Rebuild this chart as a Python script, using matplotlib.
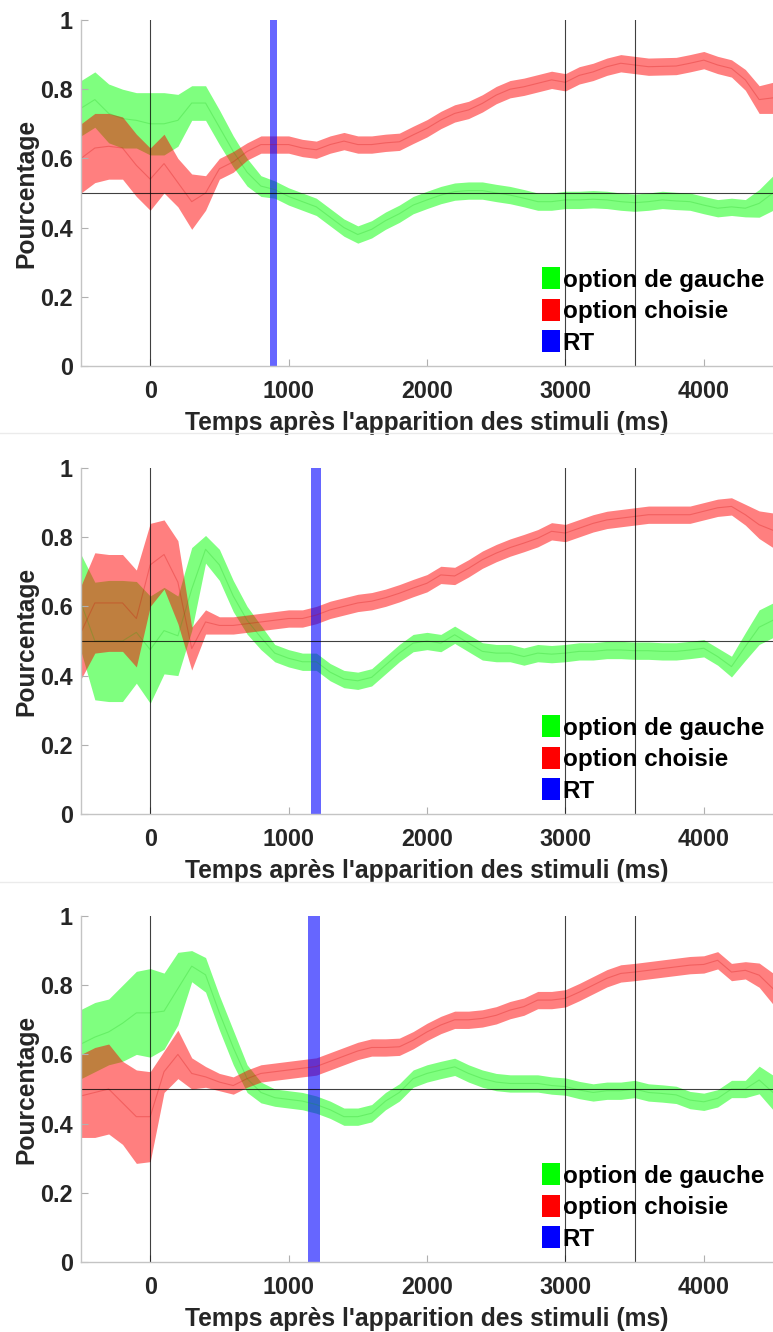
import matplotlib
matplotlib.use("Agg")
import matplotlib.pyplot as plt
from matplotlib.patches import Patch
import numpy as np

# temps (ms) après l'apparition des stimuli
t = np.arange(-500, 4501, 100)

# panneau 1
g1 = [0.745, 0.77, 0.73, 0.715, 0.71, 0.70, 0.70, 0.71, 0.76, 0.76, 0.69,
      0.62, 0.56, 0.52, 0.51, 0.49, 0.475, 0.46, 0.43, 0.40, 0.38,
      0.395, 0.42, 0.44, 0.465, 0.48, 0.494, 0.504, 0.507, 0.507, 0.50,
      0.494, 0.485, 0.475, 0.475, 0.48, 0.48, 0.482, 0.48, 0.475, 0.472,
      0.475, 0.48, 0.477, 0.475, 0.465, 0.456, 0.46, 0.456, 0.47, 0.50]
g1_err = [0.08, 0.08, 0.085, 0.085, 0.08, 0.09, 0.09, 0.075, 0.05, 0.05, 0.05,
          0.045, 0.04, 0.03, 0.025, 0.025, 0.025, 0.025, 0.025, 0.025, 0.025,
          0.025, 0.025, 0.025, 0.025, 0.025, 0.025, 0.025, 0.025, 0.025, 0.025,
          0.025, 0.025, 0.025, 0.025, 0.025, 0.025, 0.025, 0.025, 0.025, 0.025,
          0.025, 0.025, 0.025, 0.025, 0.025, 0.025, 0.025, 0.025, 0.04, 0.05]
r1 = [0.60, 0.63, 0.635, 0.63, 0.58, 0.54, 0.585, 0.53, 0.475, 0.50, 0.57,
      0.59, 0.62, 0.64, 0.64, 0.64, 0.63, 0.625, 0.64, 0.65, 0.64,
      0.64, 0.645, 0.648, 0.668, 0.687, 0.711, 0.73, 0.74, 0.759, 0.783,
      0.80, 0.807, 0.817, 0.827, 0.82, 0.84, 0.85, 0.865, 0.875, 0.87,
      0.865, 0.866, 0.867, 0.875, 0.884, 0.87, 0.86, 0.827, 0.77, 0.775]
r1_err = [0.10, 0.10, 0.095, 0.09, 0.09, 0.09, 0.085, 0.07, 0.08, 0.05, 0.03,
          0.03, 0.025, 0.025, 0.025, 0.025, 0.025, 0.025, 0.025, 0.025, 0.025,
          0.025, 0.025, 0.025, 0.025, 0.025, 0.025, 0.025, 0.025, 0.025, 0.025,
          0.025, 0.025, 0.025, 0.025, 0.025, 0.025, 0.025, 0.025, 0.025, 0.025,
          0.025, 0.025, 0.025, 0.025, 0.025, 0.025, 0.025, 0.03, 0.04, 0.045]

# panneau 2
g2 = [0.61, 0.50, 0.50, 0.50, 0.525, 0.475, 0.53, 0.515, 0.65, 0.765, 0.72,
      0.63, 0.56, 0.51, 0.465, 0.45, 0.44, 0.44, 0.41, 0.39, 0.385,
      0.395, 0.43, 0.465, 0.494, 0.50, 0.494, 0.518, 0.494, 0.47, 0.465,
      0.465, 0.455, 0.465, 0.462, 0.465, 0.47, 0.47, 0.474, 0.474, 0.472,
      0.472, 0.47, 0.47, 0.474, 0.479, 0.455, 0.426, 0.484, 0.54, 0.56]
g2_err = [0.14, 0.17, 0.175, 0.175, 0.147, 0.155, 0.125, 0.115, 0.12, 0.04, 0.045,
          0.045, 0.04, 0.035, 0.025, 0.025, 0.025, 0.025, 0.025, 0.025, 0.025,
          0.025, 0.025, 0.025, 0.025, 0.025, 0.025, 0.025, 0.025, 0.025, 0.025,
          0.025, 0.025, 0.025, 0.025, 0.025, 0.025, 0.025, 0.025, 0.025, 0.025,
          0.025, 0.025, 0.025, 0.025, 0.025, 0.025, 0.03, 0.04, 0.05, 0.05]
r2 = [0.525, 0.61, 0.61, 0.61, 0.565, 0.72, 0.75, 0.67, 0.478, 0.555, 0.545,
      0.545, 0.55, 0.555, 0.56, 0.565, 0.565, 0.575, 0.59, 0.60, 0.61,
      0.615, 0.625, 0.638, 0.653, 0.667, 0.691, 0.688, 0.71, 0.735, 0.754,
      0.77, 0.783, 0.797, 0.817, 0.812, 0.826, 0.84, 0.85, 0.855, 0.86,
      0.865, 0.865, 0.865, 0.865, 0.875, 0.885, 0.889, 0.865, 0.836, 0.82]
r2_err = [0.135, 0.145, 0.14, 0.14, 0.14, 0.12, 0.10, 0.12, 0.062, 0.035, 0.025,
          0.025, 0.025, 0.025, 0.025, 0.025, 0.025, 0.025, 0.025, 0.025, 0.025,
          0.025, 0.025, 0.025, 0.025, 0.025, 0.025, 0.025, 0.025, 0.025, 0.025,
          0.025, 0.025, 0.025, 0.025, 0.025, 0.025, 0.025, 0.025, 0.025, 0.025,
          0.025, 0.025, 0.025, 0.025, 0.025, 0.025, 0.025, 0.03, 0.04, 0.05]

# panneau 3
g3 = [0.63, 0.65, 0.665, 0.69, 0.72, 0.72, 0.725, 0.79, 0.855, 0.83, 0.72,
      0.62, 0.53, 0.49, 0.475, 0.47, 0.465, 0.455, 0.44, 0.42, 0.42,
      0.43, 0.465, 0.49, 0.53, 0.545, 0.555, 0.564, 0.545, 0.53, 0.52,
      0.516, 0.516, 0.516, 0.51, 0.507, 0.497, 0.49, 0.495, 0.495, 0.50,
      0.49, 0.487, 0.483, 0.468, 0.463, 0.473, 0.50, 0.50, 0.526, 0.49]
g3_err = [0.10, 0.10, 0.095, 0.11, 0.12, 0.128, 0.11, 0.105, 0.045, 0.05, 0.05,
          0.05, 0.04, 0.03, 0.025, 0.025, 0.025, 0.025, 0.025, 0.025, 0.025,
          0.025, 0.025, 0.025, 0.025, 0.025, 0.025, 0.025, 0.025, 0.025, 0.025,
          0.025, 0.025, 0.025, 0.025, 0.025, 0.025, 0.025, 0.025, 0.025, 0.025,
          0.025, 0.025, 0.025, 0.025, 0.025, 0.025, 0.025, 0.025, 0.04, 0.05]
r3 = [0.48, 0.49, 0.50, 0.46, 0.42, 0.42, 0.55, 0.60, 0.545, 0.535, 0.52,
      0.51, 0.53, 0.545, 0.55, 0.555, 0.56, 0.565, 0.58, 0.595, 0.61,
      0.62, 0.62, 0.622, 0.641, 0.665, 0.685, 0.70, 0.70, 0.704, 0.713,
      0.728, 0.738, 0.757, 0.757, 0.762, 0.78, 0.80, 0.82, 0.834, 0.838,
      0.843, 0.848, 0.853, 0.858, 0.86, 0.872, 0.838, 0.843, 0.829, 0.79]
r3_err = [0.12, 0.13, 0.13, 0.12, 0.135, 0.13, 0.06, 0.07, 0.045, 0.03, 0.025,
          0.025, 0.025, 0.025, 0.025, 0.025, 0.025, 0.025, 0.025, 0.025, 0.025,
          0.025, 0.025, 0.025, 0.025, 0.025, 0.025, 0.025, 0.025, 0.025, 0.025,
          0.025, 0.025, 0.025, 0.025, 0.025, 0.025, 0.025, 0.025, 0.025, 0.025,
          0.025, 0.025, 0.025, 0.025, 0.025, 0.025, 0.025, 0.025, 0.035, 0.045]

# RT (début, fin) en ms
rt_lo = [865, 1164, 1140]
rt_hi = [918, 1237, 1227]

greens = [g1, g2, g3]
greens_err = [g1_err, g2_err, g3_err]
reds = [r1, r2, r3]
reds_err = [r1_err, r2_err, r3_err]

labels = ["option de gauche", "option choisie", "RT"]
vlines = [0, 3000, 3500]

plt.rcParams['font.family'] = ['Liberation Sans', 'DejaVu Sans']
plt.rcParams['font.weight'] = 'bold'

fig = plt.figure(figsize=(7.73, 13.32), dpi=100)
W, H = 773, 1332
bottoms_px = [366, 814, 1262]  # bas de chaque axe (pixels)
ax_h = 346

for i in range(3):
    ax = fig.add_axes([81 / W, 1 - bottoms_px[i] / H, (W - 81) / W, ax_h / H])
    g = np.array(greens[i]); ge = np.array(greens_err[i])
    r = np.array(reds[i]); re = np.array(reds_err[i])

    ax.fill_between(t, g - ge, g + ge, color=(0, 1, 0), alpha=0.5, lw=0)
    ax.plot(t, g, color=(0, 0.7, 0), alpha=0.2, lw=0.8)
    ax.fill_between(t, r - re, r + re, color=(1, 0, 0), alpha=0.5, lw=0)
    ax.plot(t, r, color=(0.8, 0, 0), alpha=0.25, lw=0.8)

    for v in vlines:
        ax.axvline(v, color='black', lw=0.8, alpha=0.75)
    ax.axhline(0.5, color='black', lw=0.8, alpha=0.75)
    ax.axvspan(rt_lo[i], rt_hi[i], color=(0, 0, 1), alpha=0.6, lw=0)

    ax.set_xlim(-500, 4500)
    ax.set_ylim(0, 1)
    ax.set_xticks([0, 1000, 2000, 3000, 4000])
    ax.set_yticks([0, 0.2, 0.4, 0.6, 0.8, 1])
    ax.set_yticklabels(['0', '0.2', '0.4', '0.6', '0.8', '1'])
    for s in ['top', 'right']:
        ax.spines[s].set_visible(False)
    for s in ['left', 'bottom']:
        ax.spines[s].set_color('#c4c4c4')
        ax.spines[s].set_linewidth(1)
    ax.tick_params(direction='in', length=5, color='#b0b0b0', labelsize=16.8,
                   labelcolor='#262626')
    ax.tick_params(axis='x', pad=10)
    ax.tick_params(axis='y', pad=6)
    ax.set_xlabel("Temps après l'apparition des stimuli (ms)", fontsize=17.7,
                  fontweight='bold', color='#262626', labelpad=6)
    ax.set_ylabel("Pourcentage", fontsize=17.7, fontweight='bold',
                  color='#262626', labelpad=1)

    handles = [Patch(facecolor=(0, 1, 0), edgecolor='none'),
               Patch(facecolor=(1, 0, 0), edgecolor='none'),
               Patch(facecolor=(0, 0, 1), edgecolor='none')]
    ax.legend(handles, labels, loc='upper left', bbox_to_anchor=(0.666, 0.285),
              frameon=False, borderpad=0, borderaxespad=0,
              handlelength=0.75, handleheight=1.0, handletextpad=0.1,
              labelspacing=0.3, prop={'weight': 'bold', 'size': 17.5})

# séparateurs entre les panneaux
for yp in [433, 882]:
    fig.add_artist(plt.Line2D([0, 1], [1 - yp / H, 1 - yp / H], color='#ebebeb', lw=1))

fig.savefig('out.png', dpi=100)
